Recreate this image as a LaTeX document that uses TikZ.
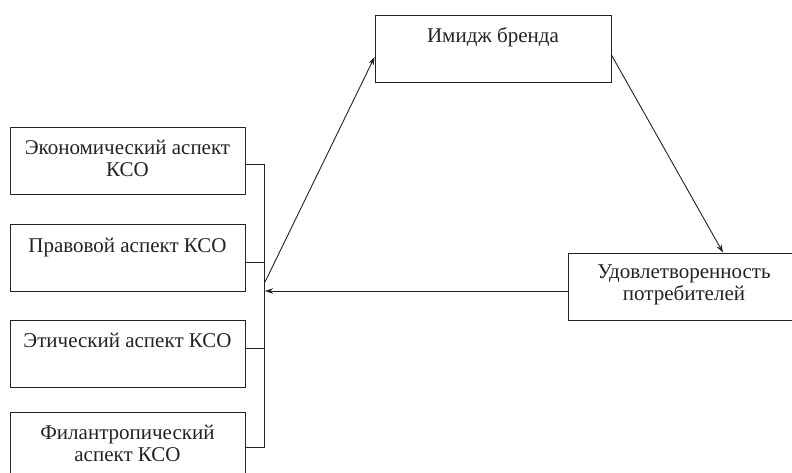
\documentclass[tikz,border=0pt]{standalone}
\usepackage{fontspec}
\setmainfont{Liberation Serif}
\usetikzlibrary{arrows.meta}
\definecolor{inkgrey}{HTML}{222222}

\begin{document}
\begin{tikzpicture}[x=1pt,y=-1pt,line width=0.9pt,draw=inkgrey,
    box/.style={draw, minimum width=235pt, minimum height=67pt, inner sep=0pt},
    caption/.style={anchor=north, align=center, inner sep=0pt, text=inkgrey,
        font=\fontsize{21}{22}\selectfont, execute at begin node=\strut},
    arr/.style={-{Stealth[length=8pt,width=5.5pt]}}]

    \useasboundingbox (0,0) rectangle (792,473);

    % aspects of CSR
    \node[box] (eco) at (127.5,161) {};
    \node[box] (prav) at (127.5,258) {};
    \node[box] (etic) at (127.5,354) {};
    \node[box] (fil) at (127.5,446) {};
    \node[caption] at ([yshift=-12.6pt]eco.north) {Экономический аспект\\КСО};
    \node[caption] at ([yshift=-12.6pt]prav.north) {Правовой аспект КСО};
    \node[caption] at ([yshift=-12pt]etic.north) {Этический аспект КСО};
    \node[caption] at ([yshift=-12.6pt]fil.north) {Филантропический\\аспект КСО};

    % brand and customers
    \node[box, minimum width=236pt] (brand) at (493,48.5) {};
    \node[caption] at ([yshift=-12.6pt]brand.north) {Имидж бренда};
    \node[box, minimum width=232pt] (udov) at (684,286.5) {};
    \node[caption] at ([yshift=-12pt]udov.north) {Удовлетворенность\\потребителей};

    % bracket
    \coordinate (bartop) at (264,164);
    \coordinate (barbot) at (264,447);
    \draw ([yshift=-3pt]eco.east) -- (bartop) -- (barbot) -- ([yshift=-1pt]fil.east);
    \draw ([yshift=-4pt]prav.east) -- ++(19,0);
    \draw ([yshift=6pt]etic.east) -- ++(19,0);

    % arrows
    \coordinate (hubout) at (265,282);
    \coordinate (hubin) at (265,291);
    \draw[arr] (hubout) -- ([yshift=-8.5pt]brand.west);
    \draw[arr] ([yshift=-6.5pt]brand.east) -- ([xshift=39pt]udov.north);
    \draw[arr] ([yshift=-4.5pt]udov.west) -- (hubin);
\end{tikzpicture}
\end{document}
